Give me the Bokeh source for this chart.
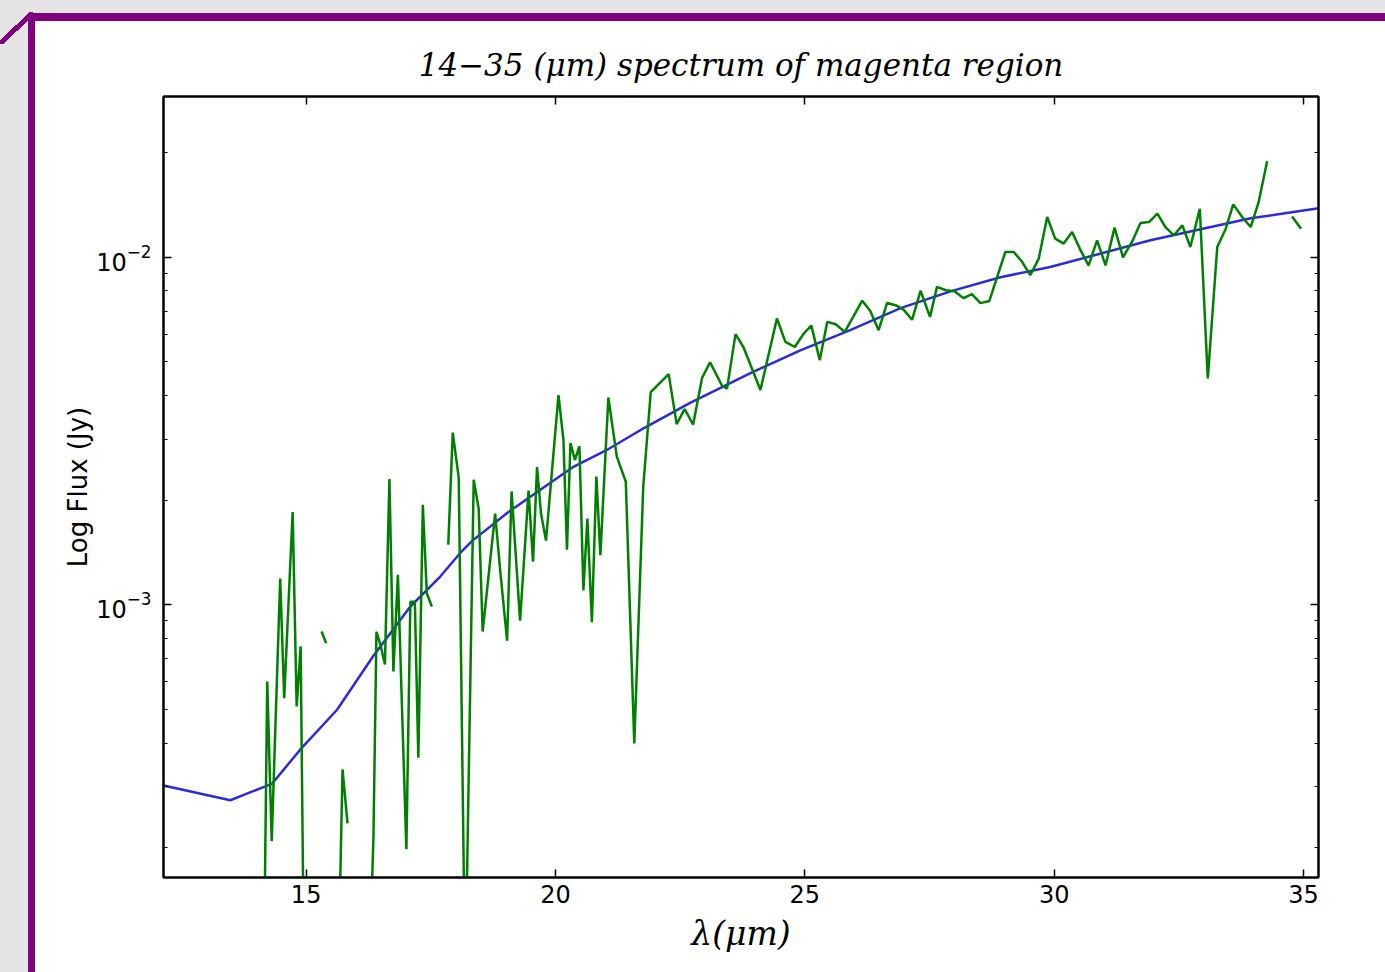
from bokeh.plotting import figure
from bokeh.models import (Range1d, FixedTicker, LinearAxis, LogAxis, CustomJSTickFormatter)
from bokeh.embed import file_html
from bokeh.resources import INLINE

nan = float("nan")

# ---- data ----
model_wavelength = [12.14, 13.48, 14.32, 14.88, 15.62, 16.34, 17.09, 17.69, 18.09, 18.35,
                    18.69, 19.03, 19.69, 20.36, 21.03, 21.70, 22.70, 23.91, 24.91, 25.91,
                    26.92, 27.92, 28.92, 29.92, 31.93, 33.94, 35.30]
model_flux = [3.02e-4, 2.74e-4, 3.06e-4, 3.83e-4, 4.99e-4, 7.10e-4, 9.89e-4, 1.206e-3, 1.41e-3, 1.537e-3,
              1.679e-3, 1.838e-3, 2.14e-3, 2.496e-3, 2.79e-3, 3.18e-3, 3.81e-3, 4.64e-3, 5.40e-3, 6.17e-3,
              7.14e-3, 7.98e-3, 8.76e-3, 9.38e-3, 1.119e-2, 1.295e-2, 1.383e-2]

spec_wavelength = [14.15, 14.22, 14.31, 14.48, 14.56, 14.73, 14.81, 14.89, 14.96, 15.05,
                   15.31, 15.40, 15.50, 15.64, 15.73, 15.83, 15.95, 16.26, 16.35, 16.41,
                   16.49, 16.58, 16.67, 16.75, 16.84, 17.01, 17.09, 17.18, 17.25, 17.34,
                   17.42, 17.52, 17.70, 17.85, 17.94, 18.06, 18.19, 18.36, 18.46, 18.54,
                   18.79, 18.89, 19.03, 19.12, 19.29, 19.46, 19.55, 19.63, 19.71, 19.81,
                   20.06, 20.16, 20.23, 20.30, 20.39, 20.48, 20.56, 20.64, 20.73, 20.82,
                   20.90, 21.06, 21.23, 21.41, 21.58, 21.76, 21.91, 22.27, 22.43, 22.59,
                   22.76, 22.94, 23.10, 23.34, 23.44, 23.61, 23.77, 24.11, 24.44, 24.61,
                   24.80, 24.98, 25.13, 25.30, 25.45, 25.62, 25.80, 25.97, 26.15, 26.31,
                   26.48, 26.65, 26.82, 26.98, 27.15, 27.32, 27.51, 27.65, 27.83, 28.00,
                   28.18, 28.35, 28.52, 28.70, 29.02, 29.19, 29.36, 29.52, 29.69, 29.86,
                   30.02, 30.19, 30.36, 30.53, 30.69, 30.86, 31.03, 31.21, 31.38, 31.56,
                   31.73, 31.90, 32.07, 32.23, 32.40, 32.57, 32.73, 32.92, 33.08, 33.27,
                   33.44, 33.59, 33.77, 33.94, 34.10, 34.27, 34.50, 34.77, 34.95]
spec_flux = [8.0e-5, 6.02e-4, 2.09e-4, 1.19e-3, 5.39e-4, 1.85e-3, 5.10e-4, 7.59e-4, 8.0e-5, nan,
             8.38e-4, 7.76e-4, nan, 8.0e-5, 3.36e-4, 2.35e-4, nan, 8.0e-5, 2.15e-4, 8.36e-4,
             7.68e-4, 6.73e-4, 2.30e-3, 6.43e-4, 1.22e-3, 1.98e-4, 1.02e-3, 1.02e-3, 3.63e-4, 1.94e-3,
             1.08e-3, 9.89e-4, nan, 1.49e-3, 3.13e-3, 2.32e-3, 8.0e-5, 2.29e-3, 1.89e-3, 8.38e-4,
             1.83e-3, 1.26e-3, 7.88e-4, 2.12e-3, 9.00e-4, 2.13e-3, 1.33e-3, 2.49e-3, 1.83e-3, 1.53e-3,
             4.01e-3, 2.98e-3, 1.44e-3, 2.92e-3, 2.61e-3, 2.86e-3, 1.10e-3, 1.77e-3, 8.91e-4, 2.34e-3,
             1.39e-3, 3.95e-3, 2.67e-3, 2.26e-3, 3.99e-4, 2.19e-3, 4.09e-3, 4.61e-3, 3.31e-3, 3.66e-3,
             3.30e-3, 4.50e-3, 4.99e-3, 4.27e-3, 4.19e-3, 6.01e-3, 5.51e-3, 4.15e-3, 6.67e-3, 5.71e-3,
             5.52e-3, 6.04e-3, 6.36e-3, 5.06e-3, 6.52e-3, 6.42e-3, 6.10e-3, 6.74e-3, 7.50e-3, 7.02e-3,
             6.17e-3, 7.39e-3, 7.28e-3, 7.07e-3, 6.61e-3, 8.01e-3, 6.74e-3, 8.22e-3, 8.04e-3, 7.99e-3,
             7.63e-3, 7.84e-3, 7.38e-3, 7.49e-3, 1.036e-2, 1.036e-2, 9.69e-3, 8.88e-3, 9.91e-3, 1.306e-2,
             1.132e-2, 1.095e-2, 1.182e-2, 1.047e-2, 9.48e-3, 1.119e-2, 9.48e-3, 1.217e-2, 1.00e-2, 1.107e-2,
             1.255e-2, 1.263e-2, 1.335e-2, 1.222e-2, 1.157e-2, 1.236e-2, 1.071e-2, 1.380e-2, 4.48e-3, 1.071e-2,
             1.209e-2, 1.420e-2, 1.306e-2, 1.222e-2, 1.442e-2, 1.891e-2, nan, 1.311e-2, 1.209e-2]

x_ticks = [15, 20, 25, 30, 35]
y_major_ticks = [1e-3, 1e-2]
y_minor_ticks = [2e-4, 3e-4, 4e-4, 5e-4, 6e-4, 7e-4, 8e-4, 9e-4,
                 2e-3, 3e-3, 4e-3, 5e-3, 6e-3, 7e-3, 8e-3, 9e-3, 2e-2]
x_limits = (12.14, 35.30)
y_limits = (1.642e-4, 2.902e-2)

title_text = "14\u221235 (\u03bcm) spectrum of magenta region"
x_label = "\u03bb(\u03bcm)"
y_label = "Log Flux (Jy)"

# slide look behind the (transparent) figure border: gray margin, white slide, purple edges
slide_styles = {
    "background-color": "#e4e4e4",
    "background-image": ("linear-gradient(#800080, #800080), "
                         "linear-gradient(#800080, #800080), "
                         "linear-gradient(to bottom right, rgba(128,0,128,0) calc(50% - 2.5px), "
                         "#800080 calc(50% - 2.5px), #800080 calc(50% + 2.5px), "
                         "rgba(128,0,128,0) calc(50% + 2.5px)), "
                         "linear-gradient(#ffffff, #ffffff)"),
    "background-position": "28px 13px, 28px 13px, 0px 12px, 35px 21px",
    "background-size": "1357px 8px, 7px 959px, 33px 32px, 1350px 951px",
    "background-repeat": "no-repeat",
}

# ---- figure ----
p = figure(width=1385, height=972, y_axis_type="log",
           x_range=Range1d(*x_limits), y_range=Range1d(*y_limits),
           output_backend="svg", toolbar_location=None,
           min_border_left=163, min_border_right=67,
           min_border_top=96, min_border_bottom=95,
           title=title_text, styles=slide_styles)
p.xgrid.visible = False
p.ygrid.visible = False
p.background_fill_color = "white"
p.border_fill_color = None
p.outline_line_color = "black"
p.outline_line_width = 2

p.title.align = "center"
p.title.text_font = "DejaVu Serif"
p.title.text_font_style = "italic"
p.title.text_font_size = "31px"
p.title.text_color = "black"
p.title.standoff = 28

bottom_axis = p.xaxis[0]
left_axis = p.yaxis[0]

p.line(model_wavelength, model_flux, line_color="#2a2ae0", line_width=2.5)
p.line(spec_wavelength, spec_flux, line_color="#008000", line_width=2.5)

# axes
bottom_axis.ticker = FixedTicker(ticks=x_ticks, minor_ticks=[])
left_axis.ticker = FixedTicker(ticks=y_major_ticks, minor_ticks=y_minor_ticks)

top_axis = LinearAxis(ticker=FixedTicker(ticks=x_ticks, minor_ticks=[]),
                      formatter=CustomJSTickFormatter(code="return ''"))
right_axis = LogAxis(ticker=FixedTicker(ticks=y_major_ticks, minor_ticks=y_minor_ticks),
                     formatter=CustomJSTickFormatter(code="return ''"))
p.add_layout(top_axis, "above")
p.add_layout(right_axis, "right")

for ax in [bottom_axis, left_axis, top_axis, right_axis]:
    ax.axis_line_color = "black"
    ax.axis_line_width = 2
    ax.major_tick_in = 8
    ax.major_tick_out = 0
    ax.minor_tick_in = 4
    ax.minor_tick_out = 0
    ax.major_tick_line_color = "black"
    ax.minor_tick_line_color = "black"
    ax.major_tick_line_width = 1.5
    ax.minor_tick_line_width = 1.2
    ax.major_label_text_font = "DejaVu Sans"
    ax.major_label_text_font_size = "24px"
    ax.major_label_text_color = "black"

for ax in [top_axis, right_axis]:
    ax.major_label_standoff = 0
    ax.major_label_text_font_size = "1px"

bottom_axis.major_label_standoff = 7
left_axis.major_label_standoff = 12

bottom_axis.axis_label = x_label
bottom_axis.axis_label_text_font = "DejaVu Serif"
bottom_axis.axis_label_text_font_style = "italic"
bottom_axis.axis_label_text_font_size = "33px"
bottom_axis.axis_label_text_color = "black"
bottom_axis.axis_label_standoff = 8

left_axis.axis_label = y_label
left_axis.axis_label_text_font = "DejaVu Sans"
left_axis.axis_label_text_font_style = "normal"
left_axis.axis_label_text_font_size = "26px"
left_axis.axis_label_text_color = "black"
left_axis.axis_label_standoff = 0

open("out.html", "w").write(file_html(p, INLINE))
